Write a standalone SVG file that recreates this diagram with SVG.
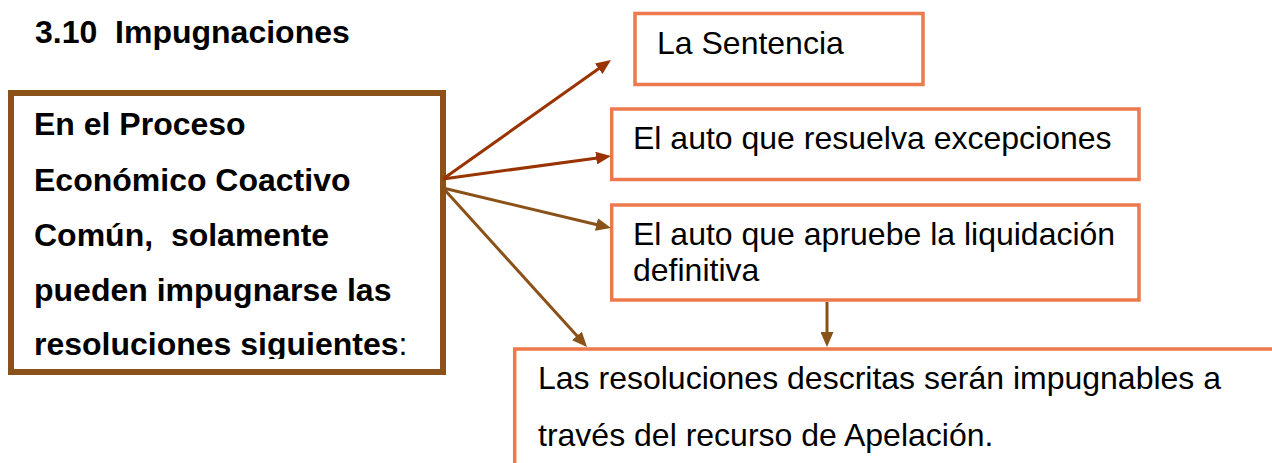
<svg xmlns="http://www.w3.org/2000/svg" width="1272" height="463" viewBox="0 0 1272 463">
  <style>
    .bold { font-family: "Liberation Sans", Arial, sans-serif; font-weight: bold; font-size: 32px; fill: #000; }
    .reg { font-family: "Liberation Sans", Arial, sans-serif; font-size: 32px; fill: #000; }
    .obox { fill: #fff; stroke: #EC7A4C; stroke-width: 3.5; }
    .mbox { fill: #fff; stroke: #8A5218; stroke-width: 6; }
    .red { stroke: #993300; stroke-width: 3; fill: none; }
    .brown { stroke: #8A5218; stroke-width: 3; fill: none; }
  </style>
  <defs>
    <marker id="ahRed" markerUnits="userSpaceOnUse" markerWidth="15" markerHeight="13" refX="5" refY="6.5" orient="auto">
      <path d="M0,0 L15,6.5 L0,13 z" fill="#993300"/>
    </marker>
    <marker id="ahBrown" markerUnits="userSpaceOnUse" markerWidth="15" markerHeight="13" refX="5" refY="6.5" orient="auto">
      <path d="M0,0 L15,6.5 L0,13 z" fill="#8A5218"/>
    </marker>
    <clipPath id="mainClip">
      <rect x="14" y="96" width="426" height="263"/>
    </clipPath>
  </defs>

  <text id="title" class="bold" x="35" y="43" xml:space="preserve">3.10  Impugnaciones</text>

  <g id="node-main">
    <rect class="mbox" x="11" y="93" width="432" height="279"/>
    <g clip-path="url(#mainClip)">
      <text class="bold" x="34" y="135">En el Proceso</text>
      <text class="bold" x="34" y="190.5">Económico Coactivo</text>
      <text class="bold" x="34" y="246" xml:space="preserve">Común,  solamente</text>
      <text class="bold" x="34" y="300.5">pueden impugnarse las</text>
      <text class="bold" x="34" y="355">resoluciones siguientes<tspan font-weight="normal">:</tspan></text>
    </g>
  </g>

  <g id="node-sentencia">
    <rect class="obox" x="635" y="13.5" width="288" height="71"/>
    <text class="reg" x="657" y="53.5">La Sentencia</text>
  </g>

  <g id="node-excepciones">
    <rect class="obox" x="611.7" y="109" width="527.3" height="70.5"/>
    <text class="reg" x="633" y="148.5">El auto que resuelva excepciones</text>
  </g>

  <g id="node-liquidacion">
    <rect class="obox" x="611.7" y="205" width="527.3" height="95"/>
    <text class="reg" x="633" y="245">El auto que apruebe la liquidación</text>
    <text class="reg" x="633" y="281">definitiva</text>
  </g>

  <g id="node-apelacion">
    <rect class="obox" x="514.7" y="349" width="780" height="140"/>
    <text class="reg" x="538" y="389">Las resoluciones descritas serán impugnables a</text>
    <text class="reg" x="538" y="446">través del recurso de Apelación.</text>
  </g>

  <g id="connectors">
    <line class="red" x1="443" y1="179" x2="602.8" y2="65.8" marker-end="url(#ahRed)"/>
    <line class="red" x1="443" y1="179" x2="601.1" y2="157.4" marker-end="url(#ahRed)"/>
    <line class="brown" x1="443" y1="188" x2="601.3" y2="225.7" marker-end="url(#ahBrown)"/>
    <line class="brown" x1="443" y1="188" x2="580.3" y2="339.6" marker-end="url(#ahBrown)"/>
    <line class="brown" x1="827" y1="302" x2="827" y2="337" marker-end="url(#ahBrown)"/>
  </g>
</svg>
